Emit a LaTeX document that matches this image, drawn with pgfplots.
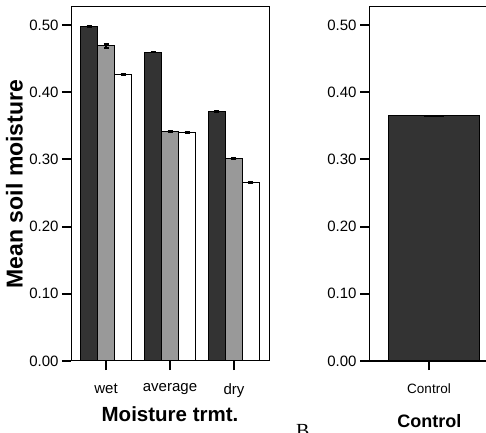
\documentclass[border=0pt]{standalone}
\usepackage{pgfplots}
\pgfplotsset{compat=1.18}
\usepackage{fontspec}
\setmainfont{Liberation Sans}
\newfontfamily\seriffont{Liberation Serif}
\definecolor{darkbar}{RGB}{51,51,51}
\definecolor{graybar}{RGB}{153,153,153}

\pgfplotsset{
  panel/.style={
    scale only axis, height=354bp,
    ymin=0, ymax=0.527,
    ytick={0,0.1,0.2,0.3,0.4,0.5},
    yticklabel style={/pgf/number format/.cd, fixed, fixed zerofill, precision=2, assume math mode=true},
    tick align=outside, xtick pos=bottom, ytick pos=left,
    major tick length=9bp, tick style={black, line width=2bp},
    axis line style={line width=1bp},
    ticklabel style={font=\fontsize{15bp}{18bp}\selectfont},
    ybar=0pt,
  },
  bars/.style={fill=#1, draw=black, line width=1bp,
    error bars/.cd, y dir=both, y explicit,
    error bar style={line width=1.5bp, black},
    error mark options={rotate=90, mark size=2.5bp, line width=1.5bp, black}},
}

\begin{document}
\begin{tikzpicture}
\useasboundingbox (0,0) rectangle (486bp,433bp);

% left panel: moisture treatments
\begin{axis}[panel, at={(71bp,72bp)}, anchor=south west, width=198bp,
  xmin=-0.547, xmax=2.547, bar width=17bp,
  xtick={0,1,2}, xticklabels={wet,average,dry},
  xticklabel style={yshift=-10bp},
  xlabel={Moisture trmt.},
  xlabel style={at={(axis description cs:0.5,-0.1723)}, anchor=base,
    font=\bfseries\fontsize{20.5bp}{24bp}\selectfont},
  ylabel={Mean soil moisture},
  ylabel style={at={(axis description cs:-0.2424,0.5)}, anchor=south, inner sep=0pt,
    font=\bfseries\fontsize{23bp}{26bp}\selectfont},
]
\addplot[bars=darkbar] coordinates {(0,0.498) +- (0,0.001) (1,0.460) +- (0,0.001) (2,0.372) +- (0,0.001)};
\addplot[bars=graybar] coordinates {(0,0.469) +- (0,0.003) (1,0.342) +- (0,0.001) (2,0.302) +- (0,0.001)};
\addplot[bars=white] coordinates {(0,0.426) +- (0,0.001) (1,0.340) +- (0,0.001) (2,0.266) +- (0,0.001)};
\draw[line width=2bp] (rel axis cs:0,1) -- (rel axis cs:0,0) -- (rel axis cs:1,0);
\end{axis}

% right panel: control
\begin{axis}[panel, at={(369bp,72bp)}, anchor=south west, width=131bp,
  xmin=369, xmax=500, bar width=91bp, bar shift=4.5bp,
  xtick={429}, xticklabels={Control},
  xticklabel style={yshift=-10bp, font=\fontsize{13.5bp}{16bp}\selectfont},
  xlabel={Control},
  xlabel style={at={(axis description cs:0.46,-0.1870)}, anchor=base,
    font=\bfseries\fontsize{18bp}{22bp}\selectfont},
]
\addplot[fill=darkbar, draw=black, line width=1bp,
  error bars/.cd, y dir=both, y explicit,
  error bar style={line width=1.5bp, black},
  error mark options={rotate=90, mark size=10bp, line width=1.5bp, black}]
  coordinates {(429,0.365) +- (0,0.0005)};
\draw[line width=2bp] (rel axis cs:0,1) -- (rel axis cs:0,0) -- (rel axis cs:1,0);
\end{axis}

\node[anchor=north west, inner sep=0pt, font=\seriffont\fontsize{20bp}{24bp}\selectfont] at (296bp,9bp) {B};
\end{tikzpicture}
\end{document}
